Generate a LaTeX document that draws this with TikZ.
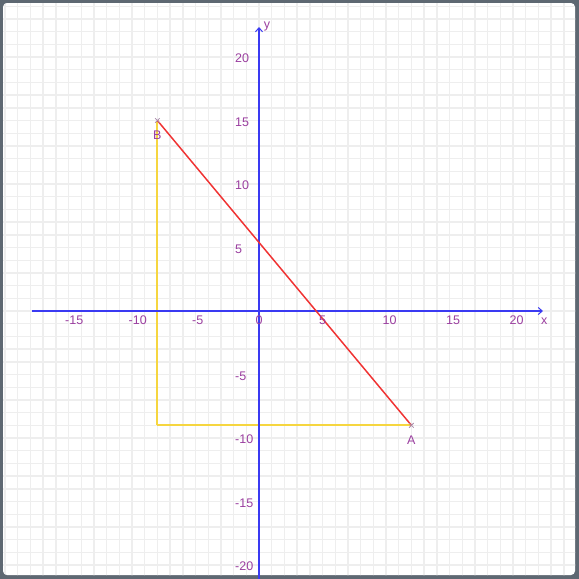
\documentclass[tikz,border=0pt]{standalone}
\usepackage{fontspec}
\setmainfont{Liberation Sans}
\usetikzlibrary{arrows.meta}
\definecolor{framec}{HTML}{5E6872}
\definecolor{gridc}{HTML}{EEEEEE}
\definecolor{axisc}{HTML}{3A3AF2}
\definecolor{labc}{HTML}{9B3FA0}
\definecolor{redc}{HTML}{F03232}
\definecolor{yelc}{HTML}{F6D640}
\definecolor{markc}{HTML}{A98AAA}
\begin{document}
\begin{tikzpicture}[x=1pt,y=-1pt,
  lab/.style={text=labc,font=\fontsize{12.5}{14}\selectfont,inner sep=0pt},
  xlab/.style={lab,anchor=west},
  ylab/.style={lab,anchor=west},
  axisline/.style={draw=axisc,line width=1.8pt,-{Straight Barb[length=4pt,width=7pt,line width=1pt]}},
  gridline/.style={draw=gridc,line width=1.4pt},
  redline/.style={draw=redc,line width=1.5pt},
  yelline/.style={draw=yelc,line width=2pt,line cap=butt},
  markline/.style={draw=markc,line width=0.8pt}]
\useasboundingbox (0,0) rectangle (579,579);
\fill[framec] (0,0) rectangle (579,579);
\fill[white,rounded corners=4pt] (3,3) rectangle (575,575);
\begin{scope}
\clip[rounded corners=4pt] (3,3) rectangle (575,575);
\begin{scope}[shift={(259pt,-311pt)},x=12.7pt,y=12.7pt]
\draw[gridline] (-21,-22) grid[step=1] (25,25);
\end{scope}
\end{scope}
\begin{scope}[shift={(259pt,-311pt)},x=12.7pt,y=12.7pt]
% named points
\coordinate (xs) at (-17.87,0);
\coordinate (xe) at (22.36,0);
\coordinate (ys) at (0,-21.2);
\coordinate (ye) at (0,22.36);
\coordinate (B) at (-8,15);
\coordinate (A) at (12,-9);
\coordinate (C) at (-8,-9);
% triangle
\draw[yelline] (B) -- (C);
\draw[yelline] (C) -- (A);
% axes
\draw[axisline] (xs) -- (xe);
\draw[axisline] (ys) -- (ye);
\draw[redline] (B) -- (A);
% markers
\foreach \p in {A,B}{
  \draw[markline] ([shift={(-2.3pt,-2.3pt)}]\p) -- ([shift={(2.3pt,2.3pt)}]\p);
  \draw[markline] ([shift={(-2.3pt,2.3pt)}]\p) -- ([shift={(2.3pt,-2.3pt)}]\p);
}
% axis labels
\foreach \k in {-15,-10,-5,0,5,10,15,20}{
  \node[xlab] (xl\k) at (\k-0.28,-0.71) {\k};
}
\foreach \k in {20,15,10,5,-5,-10,-15,-20}{
  \node[ylab] (yl\k) at (-1.89,\k-0.12) {\k};
}
\node[lab] (xname) at (22.46,-0.79) {x};
\node[lab] (yname) at (0.63,22.44) {y};
\node[lab] (Blab) at ([yshift=-14.5pt]B) {B};
\node[lab] (Alab) at ([yshift=-15pt]A) {A};
\end{scope}
\end{tikzpicture}
\end{document}
